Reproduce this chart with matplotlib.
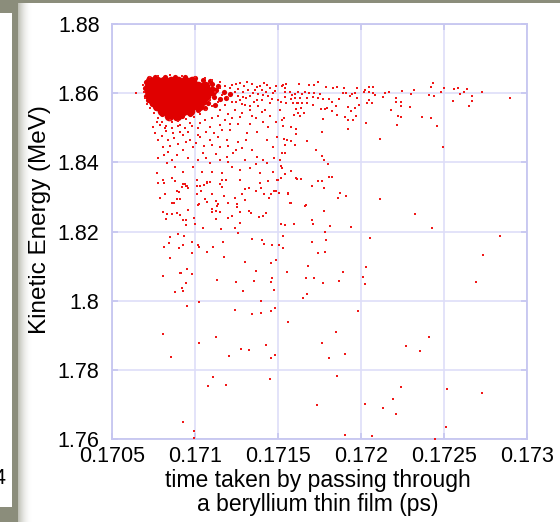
import matplotlib
matplotlib.use("Agg")
import matplotlib.pyplot as plt
from matplotlib.patches import Rectangle
from matplotlib.ticker import FormatStrFormatter

plt.rcParams['font.family'] = ['Liberation Sans', 'DejaVu Sans']

# dense core of the cloud (time in ps, energy in MeV)
core = [
    (0.170729, 1.8635), (0.170771, 1.8635), (0.170813, 1.8635), (0.170855, 1.8635), (0.170898, 1.8635), (0.170940, 1.8635), (0.170982, 1.8635),
    (0.170723, 1.8620), (0.170765, 1.8620), (0.170807, 1.8620), (0.170849, 1.8620), (0.170892, 1.8620), (0.170934, 1.8620), (0.170976, 1.8620), (0.171018, 1.8620), (0.171060, 1.8620),
    (0.170723, 1.8606), (0.170765, 1.8606), (0.170807, 1.8606), (0.170849, 1.8606), (0.170892, 1.8606), (0.170934, 1.8606), (0.170976, 1.8606), (0.171018, 1.8606), (0.171060, 1.8606), (0.171102, 1.8606),
    (0.170729, 1.8591), (0.170771, 1.8591), (0.170813, 1.8591), (0.170855, 1.8591), (0.170898, 1.8591), (0.170940, 1.8591), (0.170982, 1.8591), (0.171024, 1.8591), (0.171066, 1.8591),
    (0.170747, 1.8577), (0.170789, 1.8577), (0.170831, 1.8577), (0.170873, 1.8577), (0.170916, 1.8577), (0.170958, 1.8577), (0.171000, 1.8577), (0.171042, 1.8577),
    (0.170771, 1.8562), (0.170813, 1.8562), (0.170855, 1.8562), (0.170898, 1.8562), (0.170940, 1.8562), (0.170982, 1.8562), (0.171024, 1.8562),
    (0.170801, 1.8548), (0.170843, 1.8548), (0.170886, 1.8548), (0.170928, 1.8548), (0.170970, 1.8548),
    (0.170843, 1.8534), (0.170892, 1.8534),
]

# thinner rim around the core
halo = [
    (0.171102, 1.8626), (0.171126, 1.8609), (0.171114, 1.8588), (0.171078, 1.8571), (0.171139, 1.8620), (0.171175, 1.8603),
    (0.171187, 1.8586), (0.171211, 1.8597), (0.171151, 1.8583), (0.171120, 1.8565), (0.171060, 1.8557), (0.171018, 1.8551),
    (0.170970, 1.8539), (0.170922, 1.8534), (0.170886, 1.8528), (0.170837, 1.8534), (0.170801, 1.8539), (0.170765, 1.8557),
    (0.170741, 1.8568), (0.170717, 1.8580), (0.170705, 1.8591), (0.170699, 1.8614), (0.170705, 1.8632), (0.170723, 1.8643),
    (0.170759, 1.8646), (0.170819, 1.8646), (0.170880, 1.8646), (0.170940, 1.8646), (0.171000, 1.8643), (0.171048, 1.8638),
    (0.171090, 1.8635),
]

# edge of the core and the band near 1.86 MeV
fringe = [
    (0.170645, 1.8600), (0.170687, 1.8623), (0.170693, 1.8603), (0.170699, 1.8586), (0.170711, 1.8568), (0.170729, 1.8557),
    (0.170753, 1.8542), (0.170777, 1.8528), (0.170801, 1.8516), (0.170825, 1.8505), (0.170729, 1.8646), (0.170777, 1.8649),
    (0.170849, 1.8652), (0.170922, 1.8649), (0.171000, 1.8646), (0.171060, 1.8643), (0.171102, 1.8638), (0.171151, 1.8632),
    (0.171181, 1.8620), (0.171211, 1.8614), (0.171163, 1.8594), (0.171199, 1.8586), (0.171241, 1.8603), (0.171139, 1.8574),
    (0.171102, 1.8562), (0.171066, 1.8551), (0.171030, 1.8539), (0.170994, 1.8531), (0.170946, 1.8525), (0.170898, 1.8519),
    (0.170861, 1.8516), (0.171223, 1.8623), (0.171259, 1.8612), (0.171289, 1.8603), (0.171120, 1.8603), (0.171151, 1.8614),
    (0.171090, 1.8580), (0.171181, 1.8565), (0.171223, 1.8574), (0.171271, 1.8580), (0.171301, 1.8565), (0.171331, 1.8591),
    (0.171361, 1.8609), (0.171403, 1.8609), (0.171440, 1.8591), (0.171482, 1.8606), (0.171464, 1.8583), (0.171241, 1.8551),
    (0.171199, 1.8539), (0.171151, 1.8551), (0.171283, 1.8542), (0.171331, 1.8551), (0.171379, 1.8562), (0.171421, 1.8551),
    (0.171500, 1.8580), (0.171542, 1.8588), (0.171271, 1.8629), (0.171313, 1.8632), (0.171373, 1.8617), (0.171434, 1.8623),
    (0.171524, 1.8620), (0.171542, 1.8614), (0.171470, 1.8600), (0.171409, 1.8594), (0.171349, 1.8600), (0.171289, 1.8588),
    (0.171373, 1.8580), (0.171452, 1.8571), (0.171512, 1.8551), (0.171614, 1.8571), (0.171584, 1.8594), (0.171620, 1.8603),
    (0.171247, 1.8626), (0.171295, 1.8620), (0.171343, 1.8626), (0.171391, 1.8620), (0.171415, 1.8629), (0.171452, 1.8614),
    (0.171488, 1.8620), (0.171319, 1.8609), (0.171379, 1.8597), (0.171428, 1.8603), (0.171259, 1.8591), (0.171307, 1.8586),
    (0.171355, 1.8574), (0.171403, 1.8580), (0.171283, 1.8568), (0.171331, 1.8562), (0.171247, 1.8574),
]

# spread between 1.83 and 1.855 MeV
upper_tail = [
    (0.171271, 1.8531), (0.171343, 1.8534), (0.171409, 1.8516), (0.171440, 1.8502), (0.171373, 1.8488), (0.171313, 1.8485),
    (0.171259, 1.8459), (0.171283, 1.8441), (0.171343, 1.8436), (0.171373, 1.8415), (0.171409, 1.8406), (0.171434, 1.8398),
    (0.171229, 1.8427), (0.171193, 1.8415), (0.171151, 1.8406), (0.171090, 1.8398), (0.171048, 1.8427), (0.170988, 1.8444),
    (0.170928, 1.8436), (0.170892, 1.8421), (0.170837, 1.8430), (0.170807, 1.8444), (0.170777, 1.8464), (0.170759, 1.8485),
    (0.170747, 1.8502), (0.170771, 1.8516), (0.170819, 1.8499), (0.170867, 1.8485), (0.170928, 1.8479), (0.170970, 1.8464),
    (0.171030, 1.8473), (0.171090, 1.8464), (0.171139, 1.8473), (0.171193, 1.8464), (0.171211, 1.8493), (0.171151, 1.8508),
    (0.171090, 1.8502), (0.171030, 1.8513), (0.170970, 1.8513), (0.170910, 1.8508), (0.170849, 1.8522), (0.170777, 1.8412),
    (0.170831, 1.8398), (0.170880, 1.8386), (0.170928, 1.8372), (0.170988, 1.8386), (0.171042, 1.8372), (0.171102, 1.8372),
    (0.171163, 1.8369), (0.171223, 1.8386), (0.171271, 1.8378), (0.171331, 1.8383), (0.171391, 1.8369), (0.171470, 1.8372),
    (0.171512, 1.8406), (0.171524, 1.8427), (0.171470, 1.8444), (0.171434, 1.8464), (0.171494, 1.8473), (0.171554, 1.8464),
    (0.170771, 1.8369), (0.170807, 1.8348), (0.170861, 1.8354), (0.171012, 1.8348), (0.171072, 1.8342), (0.170952, 1.8333),
    (0.171271, 1.8348), (0.171391, 1.8339), (0.171494, 1.8348),
    (0.170789, 1.8508), (0.170825, 1.8491), (0.170861, 1.8499), (0.170898, 1.8505), (0.170940, 1.8499), (0.170982, 1.8505),
    (0.171018, 1.8499), (0.171060, 1.8522), (0.171102, 1.8528), (0.171139, 1.8534), (0.171181, 1.8522), (0.171223, 1.8528),
    (0.171259, 1.8511), (0.171211, 1.8511), (0.171163, 1.8493), (0.171114, 1.8485), (0.171066, 1.8488), (0.171018, 1.8479),
    (0.170958, 1.8488), (0.170910, 1.8488), (0.170873, 1.8470), (0.170837, 1.8464), (0.170801, 1.8476), (0.170849, 1.8447),
    (0.170898, 1.8453), (0.170946, 1.8459), (0.171006, 1.8456), (0.171054, 1.8447), (0.171102, 1.8450), (0.171151, 1.8444),
    (0.171199, 1.8447), (0.171247, 1.8436), (0.171307, 1.8464), (0.171331, 1.8511), (0.171367, 1.8528), (0.171403, 1.8545),
    (0.171452, 1.8534), (0.171488, 1.8516), (0.170813, 1.8421), (0.170861, 1.8406), (0.170958, 1.8412), (0.171018, 1.8406),
    (0.171066, 1.8412), (0.171126, 1.8424), (0.171199, 1.8401), (0.171301, 1.8406), (0.171367, 1.8395), (0.171476, 1.8412),
]

# right part of the 1.86 MeV band
band_right = [
    (0.171530, 1.8623), (0.171548, 1.8626), (0.171626, 1.8626), (0.171687, 1.8623), (0.171717, 1.8623), (0.171741, 1.8632),
    (0.171789, 1.8617), (0.171831, 1.8614), (0.171855, 1.8617), (0.171897, 1.8614), (0.171976, 1.8614), (0.172048, 1.8617),
    (0.172072, 1.8617), (0.172024, 1.8609), (0.172018, 1.8603), (0.172048, 1.8603), (0.172072, 1.8600), (0.172144, 1.8600),
    (0.172168, 1.8603), (0.172247, 1.8606), (0.172319, 1.8609), (0.172301, 1.8597), (0.172410, 1.8594), (0.172422, 1.8617),
    (0.172434, 1.8629), (0.172482, 1.8603), (0.172500, 1.8614), (0.172440, 1.8591), (0.172560, 1.8612), (0.172584, 1.8614),
    (0.172620, 1.8603), (0.172596, 1.8597), (0.172639, 1.8612), (0.172669, 1.8591), (0.172669, 1.8577), (0.172651, 1.8562),
    (0.172554, 1.8577), (0.172729, 1.8603), (0.172897, 1.8586), (0.172211, 1.8586), (0.172211, 1.8574), (0.172241, 1.8574),
    (0.172241, 1.8562), (0.172295, 1.8560), (0.172181, 1.8551), (0.172223, 1.8534), (0.172241, 1.8531), (0.172368, 1.8531),
    (0.172422, 1.8528), (0.172458, 1.8505), (0.172217, 1.8508), (0.172494, 1.8444), (0.172114, 1.8467), (0.172030, 1.8513),
    (0.172066, 1.8571), (0.172036, 1.8571), (0.172048, 1.8580), (0.172084, 1.8594), (0.172132, 1.8588), (0.171976, 1.8586),
    (0.171988, 1.8565), (0.171964, 1.8557), (0.171970, 1.8534), (0.171940, 1.8548), (0.171952, 1.8522), (0.171922, 1.8522),
    (0.171903, 1.8531), (0.171922, 1.8496), (0.171922, 1.8560), (0.171891, 1.8600), (0.171867, 1.8583), (0.171825, 1.8574),
    (0.171849, 1.8562), (0.171855, 1.8536), (0.171825, 1.8548), (0.171795, 1.8557), (0.171771, 1.8525), (0.171759, 1.8554),
    (0.171765, 1.8488), (0.171675, 1.8461), (0.171729, 1.8435), (0.171765, 1.8418), (0.171777, 1.8406), (0.171801, 1.8394),
    (0.171807, 1.8359), (0.171825, 1.8359), (0.171765, 1.8345), (0.171741, 1.8345), (0.171705, 1.8333), (0.171777, 1.8325),
    (0.171639, 1.8351), (0.171614, 1.8351), (0.171608, 1.8356), (0.171578, 1.8374), (0.171560, 1.8310), (0.171669, 1.8278),
    (0.171663, 1.8275), (0.171578, 1.8281), (0.171873, 1.8310), (0.171861, 1.8298), (0.171909, 1.8304), (0.171777, 1.8258),
    (0.171705, 1.8232), (0.171711, 1.8223), (0.171813, 1.8217), (0.171596, 1.8223), (0.171518, 1.8223), (0.171783, 1.8200),
    (0.171940, 1.8212), (0.171608, 1.8496), (0.171608, 1.8482), (0.171578, 1.8502), (0.171596, 1.8536), (0.171608, 1.8554),
    (0.171620, 1.8542), (0.171632, 1.8534), (0.171657, 1.8542), (0.171639, 1.8557), (0.171536, 1.8528), (0.171524, 1.8522),
    (0.171530, 1.8505), (0.171536, 1.8467), (0.171542, 1.8450), (0.171578, 1.8461), (0.171542, 1.8427), (0.171602, 1.8450),
    (0.171518, 1.8389), (0.171524, 1.8383), (0.171542, 1.8366), (0.171518, 1.8354), (0.171578, 1.8583), (0.171548, 1.8571),
    (0.171518, 1.8574), (0.171590, 1.8571), (0.171620, 1.8571), (0.171645, 1.8571), (0.171675, 1.8571), (0.171711, 1.8565),
    (0.171741, 1.8586), (0.171771, 1.8583), (0.171807, 1.8583), (0.171753, 1.8597), (0.171717, 1.8600), (0.171687, 1.8600),
    (0.171663, 1.8603), (0.171645, 1.8597), (0.171602, 1.8597), (0.171572, 1.8603), (0.171542, 1.8603), (0.171602, 1.8586),
    (0.171632, 1.8586), (0.171675, 1.8586), (0.171711, 1.8588), (0.171783, 1.8554), (0.171964, 1.8600), (0.171909, 1.8600),
    (0.171934, 1.8591), (0.171946, 1.8597),
]

# 1.82 - 1.835 MeV, left half
mid_tail = [
    (0.170777, 1.8339), (0.170813, 1.8339), (0.170880, 1.8345), (0.170928, 1.8336), (0.170940, 1.8336), (0.170946, 1.8331),
    (0.170922, 1.8328), (0.170904, 1.8313), (0.170892, 1.8316), (0.170958, 1.8325), (0.171012, 1.8331), (0.171030, 1.8331),
    (0.171054, 1.8334), (0.171072, 1.8339), (0.171090, 1.8342), (0.171151, 1.8336), (0.171163, 1.8328), (0.171036, 1.8316),
    (0.171012, 1.8308), (0.171102, 1.8308), (0.170789, 1.8296), (0.170819, 1.8308), (0.170861, 1.8282), (0.170874, 1.8282),
    (0.170892, 1.8293), (0.170910, 1.8293), (0.170958, 1.8261), (0.170807, 1.8256), (0.170831, 1.8250), (0.170861, 1.8250),
    (0.170892, 1.8253), (0.170910, 1.8247), (0.170825, 1.8235), (0.170928, 1.8233), (0.170946, 1.8233), (0.170994, 1.8238),
    (0.171000, 1.8221), (0.170946, 1.8218), (0.171018, 1.8276), (0.171024, 1.8279), (0.171060, 1.8293), (0.171072, 1.8285),
    (0.171126, 1.8287), (0.171139, 1.8279), (0.171132, 1.8273), (0.171102, 1.8264), (0.171102, 1.8256), (0.171126, 1.8259),
    (0.171151, 1.8256), (0.171126, 1.8235), (0.171048, 1.8209), (0.171157, 1.8206), (0.171175, 1.8302), (0.171199, 1.8282),
    (0.171223, 1.8244), (0.171199, 1.8238), (0.171241, 1.8296), (0.171253, 1.8279), (0.171253, 1.8270), (0.171271, 1.8256),
    (0.171271, 1.8224), (0.171241, 1.8209), (0.171259, 1.8195), (0.171283, 1.8308), (0.171301, 1.8322), (0.171325, 1.8325),
    (0.171301, 1.8290), (0.171337, 1.8253), (0.171325, 1.8259), (0.171367, 1.8316), (0.171397, 1.8325), (0.171415, 1.8308),
    (0.171458, 1.8308), (0.171476, 1.8316), (0.171488, 1.8316), (0.171506, 1.8310), (0.171446, 1.8296), (0.171385, 1.8241),
    (0.171409, 1.8244), (0.171428, 1.8253), (0.171542, 1.8218), (0.171560, 1.8308), (0.171572, 1.8282), (0.171440, 1.8345),
    (0.171500, 1.8348), (0.171163, 1.8348), (0.171187, 1.8348),
]

# sparse points below 1.82 MeV
low_tail = [
    (0.170898, 1.8194), (0.170934, 1.8188), (0.170849, 1.8183), (0.170843, 1.8168), (0.170813, 1.8154), (0.170904, 1.8151),
    (0.170928, 1.8162), (0.170982, 1.8171), (0.170982, 1.8139), (0.171018, 1.8160), (0.171024, 1.8154), (0.171072, 1.8142),
    (0.171108, 1.8154), (0.171169, 1.8171), (0.171175, 1.8125), (0.171301, 1.8113), (0.171343, 1.8177), (0.171403, 1.8174),
    (0.171415, 1.8165), (0.171367, 1.8087), (0.171464, 1.8160), (0.171506, 1.8160), (0.171530, 1.8151), (0.171530, 1.8186),
    (0.171458, 1.8110), (0.171488, 1.8119), (0.171705, 1.8171), (0.171789, 1.8174), (0.171783, 1.8142), (0.171741, 1.8139),
    (0.171681, 1.8099), (0.171892, 1.8084), (0.170849, 1.8122), (0.170952, 1.8093), (0.170910, 1.8081), (0.170916, 1.8081),
    (0.170982, 1.8076), (0.170807, 1.8070), (0.171132, 1.8061), (0.171247, 1.8055), (0.171355, 1.8058), (0.171464, 1.8066),
    (0.171458, 1.8055), (0.171476, 1.8032), (0.171554, 1.8084), (0.171669, 1.8066), (0.171717, 1.8066), (0.171771, 1.8052),
    (0.171867, 1.8058), (0.172012, 1.8069), (0.172024, 1.8049), (0.172030, 1.8098), (0.172054, 1.8180), (0.170946, 1.8052),
    (0.170922, 1.8038), (0.170880, 1.8026), (0.170928, 1.8029), (0.171289, 1.8029), (0.171675, 1.8020), (0.171651, 1.8009),
    (0.171398, 1.8000), (0.171024, 1.7997), (0.170952, 1.7986), (0.171241, 1.7974), (0.171343, 1.7962), (0.171397, 1.7965),
    (0.171458, 1.7971), (0.171482, 1.7980), (0.171560, 1.7939), (0.171982, 1.7971), (0.170807, 1.7905), (0.171126, 1.7896),
    (0.171024, 1.7879), (0.171428, 1.7873), (0.171277, 1.7861), (0.171325, 1.7858), (0.171205, 1.7841), (0.171482, 1.7844),
    (0.171458, 1.7835), (0.170855, 1.7838), (0.171765, 1.7879), (0.171849, 1.7908), (0.171903, 1.7847), (0.171807, 1.7835),
    (0.171108, 1.7780), (0.171078, 1.7753), (0.171187, 1.7756), (0.171452, 1.7774), (0.171855, 1.7783), (0.171735, 1.7699),
    (0.172024, 1.7702), (0.170928, 1.7649), (0.170994, 1.7623), (0.170994, 1.7603), (0.171903, 1.7612), (0.172066, 1.7609),
    (0.172114, 1.8295), (0.172325, 1.8252), (0.172428, 1.8209), (0.172837, 1.8186), (0.172735, 1.8131), (0.172693, 1.8055),
    (0.172410, 1.7896), (0.172271, 1.7870), (0.172355, 1.7855), (0.172241, 1.7751), (0.172518, 1.7745), (0.172729, 1.7734),
    (0.172193, 1.7716), (0.172132, 1.7690), (0.172211, 1.7673), (0.172512, 1.7635), (0.172446, 1.7600),
]

x_ticks = [0.1705, 0.171, 0.1715, 0.172, 0.1725, 0.173]
y_ticks = [1.76, 1.78, 1.80, 1.82, 1.84, 1.86, 1.88]

red = '#e00000'
dot_red = '#f01818'
frame = '#c6c6f0'
grid = '#dedef8'
slide_gray = '#8b8d7b'

fig = plt.figure(figsize=(5.6, 5.22), dpi=100)
fig.patch.set_facecolor('white')

# slide background around the plot
W, H = 560, 522
def box(x, y, w, h, color, alpha=1.0):
    fig.patches.append(Rectangle((x / W, 1 - (y + h) / H), w / W, h / H, transform=fig.transFigure,
                                 facecolor=color, edgecolor='none', alpha=alpha, zorder=-10))

box(0, 0, W, 3, slide_gray)
box(0, 0, 18, 13, slide_gray)
box(12, 0, 6, H, slide_gray)
box(0, 507, 18, 15, slide_gray)
for i in range(14):
    box(18 + i, 3, 1, H - 3, slide_gray, alpha=0.55 * (1 - i / 14) ** 2)

ax = fig.add_axes([112 / W, 1 - 439 / H, 415 / W, 415 / H])

t, e = zip(*core)
ax.scatter(t, e, s=48, marker='o', color=red, linewidths=0, zorder=3)
t, e = zip(*halo)
ax.scatter(t, e, s=14, marker='o', color=red, linewidths=0, zorder=3)
for pts in [fringe, upper_tail, band_right, mid_tail, low_tail]:
    t, e = zip(*pts)
    ax.scatter(t, e, s=4, marker='s', color=dot_red, linewidths=0, zorder=3)

ax.set_xlim(0.1705, 0.173)
ax.set_ylim(1.76, 1.88)
ax.set_xticks(x_ticks)
ax.set_yticks(y_ticks)
ax.xaxis.set_major_formatter(FormatStrFormatter('%g'))
ax.yaxis.set_major_formatter(FormatStrFormatter('%g'))
ax.grid(True, color=grid, linewidth=1.2)
ax.set_axisbelow(True)
for s in ax.spines.values():
    s.set_color(frame)
    s.set_linewidth(1.3)
ax.tick_params(direction='in', length=4, color=frame, width=1.2, top=True, right=True,
               labelsize=15.5, labelcolor='black')
ax.tick_params(axis='x', pad=5)
ax.tick_params(axis='y', pad=9)

fig.text(40 / W, 1 - 220 / H, 'Kinetic Energy (MeV)', rotation=90, ha='center', va='center', fontsize=17.5)
fig.text(318 / W, 1 - 481 / H, 'time taken by passing through', ha='center', va='center', fontsize=16.5)
fig.text(318 / W, 1 - 505 / H, 'a beryllium thin film (ps)', ha='center', va='center', fontsize=16.5)
fig.text(-6 / W, 1 - 478 / H, '4', ha='left', va='center', fontsize=15.5)

fig.savefig('out.png', dpi=100)
